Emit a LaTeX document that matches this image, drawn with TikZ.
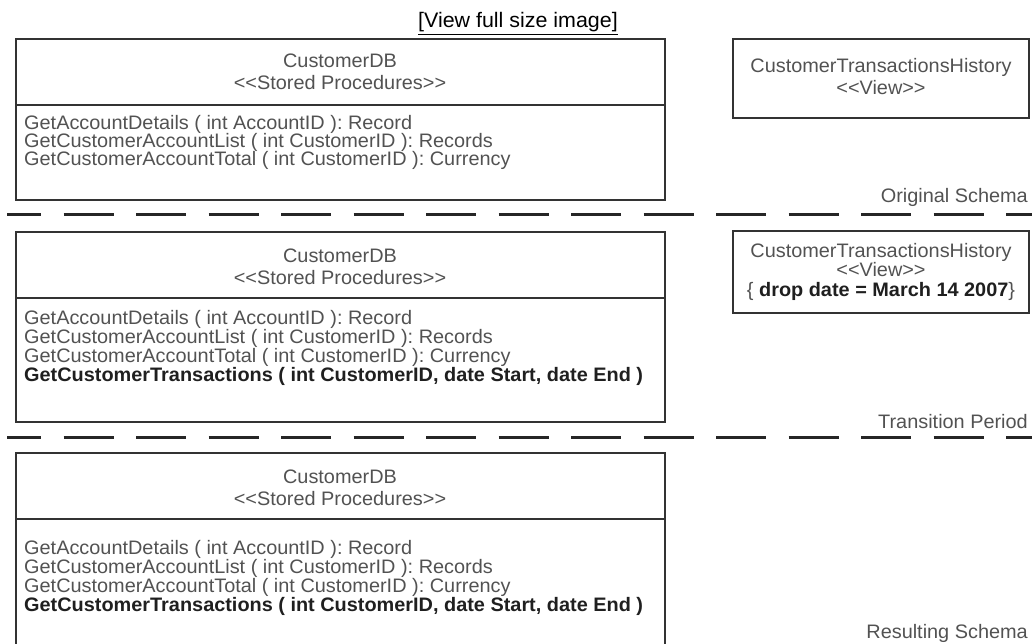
\documentclass[tikz,border=0pt]{standalone}
\usepackage{fontspec}
\setmainfont{Liberation Sans}[FakeStretch=1.02, Ligatures=TeXOff]
\begin{document}
\begin{tikzpicture}[x=1pt,y=-1pt,
  boxline/.style={draw=black!80, line width=2.6pt},
  box/.style={boxline, inner sep=0pt, outer sep=0pt},
  txt/.style={inner sep=0pt, font=\fontsize{19.5}{21}\selectfont, text=black!68},
  btxt/.style={inner sep=0pt, font=\fontsize{19.5}{21}\selectfont\bfseries, text=black!88},
  sep/.style={draw=black!85, line width=3pt, dash pattern=on 50pt off 22.5pt, dash phase=16pt}]
\useasboundingbox (0,0) rectangle (1032,644);
% header
\node[inner sep=0pt, anchor=base, font=\fontsize{21}{23}\selectfont] (hdr) at (518,28) {\underline{[View full size image]}};
% ---------- original schema
\node[box, anchor=north west, minimum width=649pt, minimum height=161pt] (db1) at (16,39) {};
\draw[boxline] (db1.west |- 0,105) -- (db1.east |- 0,105);
\node[txt, anchor=base] (db1t) at (340,68) {CustomerDB};
\node[txt, anchor=base] (db1s) at (340,90) {<<Stored Procedures>>};
\node[txt, anchor=base west] (db1m1) at (24,130) {GetAccountDetails ( int AccountID ): Record};
\node[txt, anchor=base west] (db1m2) at (24,148) {GetCustomerAccountList ( int CustomerID ): Records};
\node[txt, anchor=base west] (db1m3) at (24,166) {GetCustomerAccountTotal ( int CustomerID ): Currency};
\node[box, anchor=north west, minimum width=296pt, minimum height=79pt] (v1) at (733,39) {};
\node[txt, anchor=base] (v1t) at (v1.center |- 0,73) {CustomerTransactionsHistory};
\node[txt, anchor=base] (v1s) at (v1.center |- 0,95) {<<View>>};
\node[txt, anchor=base east] (lab1) at (1028,203) {Original Schema};
\coordinate (s1a) at (7,215);
\coordinate (s1b) at (1032,215);
\draw[sep] (s1a) -- (s1b);
% ---------- transition period
\node[box, anchor=north west, minimum width=649pt, minimum height=190pt] (db2) at (16,232) {};
\draw[boxline] (db2.west |- 0,298) -- (db2.east |- 0,298);
\node[txt, anchor=base] (db2t) at (340,262) {CustomerDB};
\node[txt, anchor=base] (db2s) at (340,284) {<<Stored Procedures>>};
\node[txt, anchor=base west] (db2m1) at (24,324) {GetAccountDetails ( int AccountID ): Record};
\node[txt, anchor=base west] (db2m2) at (24,343) {GetCustomerAccountList ( int CustomerID ): Records};
\node[txt, anchor=base west] (db2m3) at (24,362) {GetCustomerAccountTotal ( int CustomerID ): Currency};
\node[btxt, anchor=base west] (db2m4) at (24,381) {GetCustomerTransactions ( int CustomerID, date Start, date End )};
\node[box, anchor=north west, minimum width=296pt, minimum height=82pt] (v2) at (733,231) {};
\node[txt, anchor=base] (v2t) at (v2.center |- 0,257) {CustomerTransactionsHistory};
\node[txt, anchor=base] (v2s) at (v2.center |- 0,276) {<<View>>};
\node[txt, anchor=base] (v2d) at (v2.center |- 0,296) {\{ \textbf{\color{black!88}drop date = March 14 2007}\}};
\node[txt, anchor=base east] (lab2) at (1028,428) {Transition Period};
\coordinate (s2a) at (7,437);
\coordinate (s2b) at (1032,437);
\draw[sep] (s2a) -- (s2b);
% ---------- resulting schema
\node[box, anchor=north west, minimum width=649pt, minimum height=200pt] (db3) at (16,453) {};
\draw[boxline] (db3.west |- 0,519) -- (db3.east |- 0,519);
\node[txt, anchor=base] (db3t) at (340,483) {CustomerDB};
\node[txt, anchor=base] (db3s) at (340,505) {<<Stored Procedures>>};
\node[txt, anchor=base west] (db3m1) at (24,554) {GetAccountDetails ( int AccountID ): Record};
\node[txt, anchor=base west] (db3m2) at (24,573) {GetCustomerAccountList ( int CustomerID ): Records};
\node[txt, anchor=base west] (db3m3) at (24,592) {GetCustomerAccountTotal ( int CustomerID ): Currency};
\node[btxt, anchor=base west] (db3m4) at (24,611) {GetCustomerTransactions ( int CustomerID, date Start, date End )};
\node[txt, anchor=base east] (lab3) at (1028,638) {Resulting Schema};
\end{tikzpicture}
\end{document}
